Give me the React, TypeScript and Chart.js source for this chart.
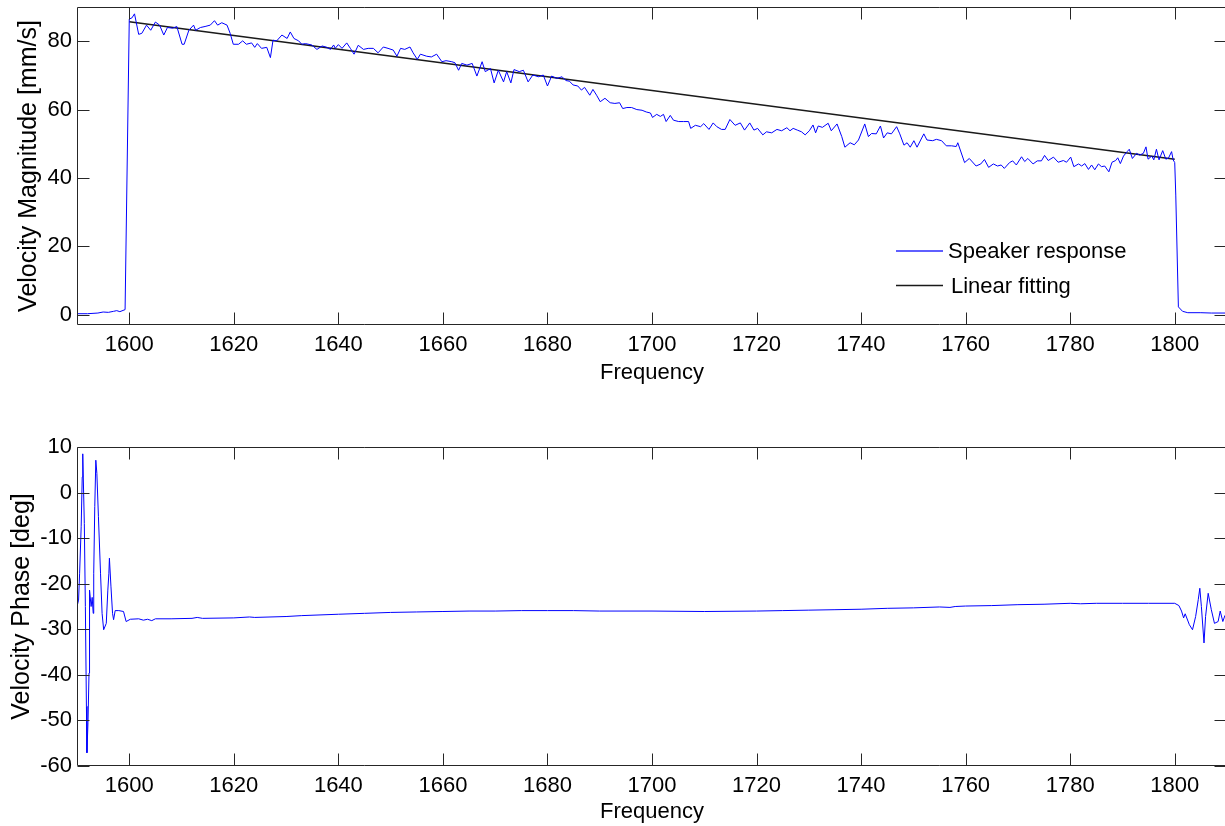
import React, { useEffect, useRef } from 'react';
import { Chart, registerables } from 'chart.js';

Chart.register(...registerables);

const FONT = "'Liberation Sans', Arial, Helvetica, sans-serif";

const xTicks = [1600, 1620, 1640, 1660, 1680, 1700, 1720, 1740, 1760, 1780, 1800];
const magYTicks = [0, 20, 40, 60, 80];
const phaseYTicks = [-60, -50, -40, -30, -20, -10, 0, 10];

const magFreq = [
  1590, 1592, 1594, 1595, 1596, 1597, 1597.6, 1598.2, 1599.2,
  1600, 1600.5, 1601, 1601.8, 1602.4, 1603.3, 1604.1, 1605, 1605.8, 1606.6, 1607.3, 1608.3, 1609.1,
  1610.1, 1610.5, 1611.4, 1612.3, 1612.7, 1613.6, 1614.5, 1615.5, 1616.3, 1616.9, 1617.7, 1618.7, 1619.3, 1619.9,
  1620.9, 1621.7, 1622.4, 1623.4, 1624.0, 1624.5, 1625.3, 1626.3, 1627.0, 1627.5, 1628.2, 1629.2,
  1630.2, 1630.8, 1631.5, 1632.4, 1633.0, 1633.7, 1634.9, 1635.9, 1636.9, 1637.8, 1638.5, 1639.1, 1639.4,
  1640.0, 1640.7, 1641.6, 1642.3, 1643.0, 1643.8, 1644.8, 1645.7, 1646.7, 1647.6, 1648.6, 1649.5,
  1650.5, 1651.2, 1651.9, 1652.7, 1653.7, 1654.3, 1655.1, 1655.7, 1656.9, 1657.8, 1658.8, 1659.8,
  1660.6, 1661.7, 1662.3, 1663.0, 1663.6, 1664.6, 1665.6, 1666.5, 1667.5, 1668.1, 1669.1, 1669.8,
  1670.6, 1671.6, 1672.2, 1673.0, 1673.6, 1674.6, 1675.4, 1676.3, 1677.2, 1678.3, 1679.2,
  1680.0, 1680.8, 1681.8, 1682.8, 1683.5, 1684.2, 1684.9, 1685.8, 1686.5, 1687.1, 1688.1, 1688.7, 1689.4,
  1690.1, 1691.0, 1692.0, 1692.9, 1693.8, 1694.4, 1695.2, 1696.1, 1697.1, 1698.1, 1698.9, 1699.7,
  1700.1, 1700.9, 1701.6, 1702.2, 1702.7, 1703.5, 1704.1, 1705.1, 1706.0, 1707.0, 1707.4, 1708.3, 1709.3, 1709.9,
  1710.9, 1711.7, 1712.4, 1713.3, 1714.0, 1714.9, 1715.9, 1716.9, 1717.7, 1718.7, 1719.5,
  1720.2, 1721.2, 1721.9, 1722.9, 1723.9, 1724.8, 1725.8, 1726.4, 1727.0, 1727.8, 1728.6, 1729.3,
  1730.1, 1730.8, 1731.3, 1731.8, 1732.6, 1733.7, 1734.3, 1735.4, 1736.3, 1736.9, 1737.9, 1738.7, 1739.5,
  1740.7, 1741.4, 1742.0, 1742.9, 1743.7, 1744.3, 1745.0, 1745.8, 1746.8, 1747.4, 1748.2, 1748.8, 1749.4,
  1750.1, 1750.7, 1752.0, 1752.6, 1753.7, 1754.4, 1755.4, 1756.3, 1757.3, 1758.2, 1758.5, 1759.8,
  1760.7, 1762.0, 1762.9, 1763.6, 1764.4, 1765.3, 1766.1, 1766.8, 1767.4, 1768.4, 1769.0, 1769.7,
  1770.7, 1771.3, 1771.9, 1772.9, 1773.7, 1774.5, 1775.1, 1775.8, 1776.8, 1777.7, 1778.7, 1779.3,
  1780.1, 1780.7, 1781.6, 1782.2, 1782.8, 1783.5, 1784.1, 1784.7, 1785.4, 1786.0, 1786.6, 1787.4, 1788.0, 1788.7, 1789.1, 1789.6,
  1790.2, 1790.9, 1791.3, 1791.9, 1792.7, 1793.3, 1794.0, 1794.5, 1794.9, 1795.6, 1796.0, 1796.5, 1797.0, 1797.7, 1798.3, 1798.8, 1799.4, 1799.7,
  1800.0, 1800.2, 1800.7, 1801.5, 1802.5, 1805, 1807, 1810,
];
const magValue = [
  0.3, 0.3, 0.5, 0.8, 0.7, 1.0, 1.2, 0.9, 1.5,
  86.5, 86.8, 88.0, 82.0, 82.3, 84.7, 83.2, 85.6, 84.7, 81.8, 84.0, 83.8, 84.3,
  79.1, 79.1, 83.2, 84.7, 83.2, 84.0, 84.3, 84.7, 86.0, 84.7, 85.4, 84.7, 82.3, 79.1,
  79.1, 80.1, 79.1, 79.5, 78.2, 79.3, 77.9, 78.2, 75.2, 80.3, 80.1, 81.8,
  80.8, 82.7, 80.8, 80.1, 79.1, 79.3, 78.9, 77.6, 78.6, 78.2, 77.6, 78.9, 77.9,
  79.0, 77.9, 79.5, 77.9, 76.2, 78.8, 77.6, 77.9, 77.9, 76.6, 78.3, 77.9,
  77.4, 75.6, 77.9, 77.6, 78.3, 76.6, 74.7, 76.2, 75.6, 75.4, 76.2, 74.0,
  74.3, 74.0, 73.7, 71.5, 73.5, 73.0, 73.5, 69.8, 74.0, 71.1, 72.0, 67.8,
  71.5, 68.1, 71.1, 67.8, 71.7, 71.1, 71.5, 68.1, 70.1, 69.6, 70.1,
  66.9, 69.8, 69.1, 69.6, 68.5, 68.3, 67.2, 66.9, 65.7, 66.5, 64.2, 65.9, 64.2,
  62.3, 63.3, 62.0, 61.8, 62.0, 60.3, 60.6, 60.6, 60.0, 59.8, 59.3, 59.0,
  57.7, 58.6, 58.0, 58.6, 56.5, 58.3, 56.9, 56.5, 56.5, 56.5, 54.5, 55.4, 55.0, 55.9,
  54.2, 56.1, 55.0, 54.2, 54.2, 57.1, 55.4, 56.1, 54.0, 56.1, 54.0,
  54.5, 52.6, 53.5, 53.2, 54.2, 53.8, 54.7, 53.8, 54.5, 54.0, 53.5, 52.6,
  53.8, 55.5, 53.2, 55.2, 54.8, 56.0, 53.8, 55.8, 52.1, 49.0, 50.3, 49.7, 51.1,
  55.8, 52.1, 53.0, 52.9, 55.2, 51.7, 53.2, 52.9, 55.0, 52.9, 49.6, 50.3, 49.0,
  50.9, 49.0, 52.9, 51.1, 50.9, 51.3, 50.9, 49.4, 49.4, 49.2, 50.3, 44.5,
  45.7, 43.5, 44.1, 45.4, 43.1, 44.1, 43.5, 43.8, 42.8, 44.5, 45.0, 43.8,
  46.2, 44.8, 45.7, 44.1, 45.0, 45.0, 46.6, 45.1, 46.1, 44.6, 45.1, 44.6,
  46.1, 43.3, 44.1, 43.5, 44.2, 42.5, 43.8, 42.4, 44.1, 43.3, 43.5, 41.8, 44.6, 45.1, 45.9, 44.2,
  46.4, 47.7, 48.4, 45.7, 47.2, 46.7, 47.2, 49.1, 45.5, 46.4, 45.3, 48.4, 45.3, 48.0, 45.5, 45.8, 47.7, 45.3,
  44.5, 35.0, 2.3, 1.0, 0.6, 0.6, 0.5, 0.5,
];

const fitFreq = [1600, 1800];
const fitValue = [85.7, 45.5];

const phaseFreq = [
  1590.0, 1590.3, 1590.5, 1590.8, 1591.0, 1591.1, 1591.4, 1591.6, 1591.8, 1591.9,
  1592.1, 1592.3, 1592.4, 1592.7, 1592.9, 1593.1, 1593.2, 1593.4, 1593.6, 1593.8,
  1594.1, 1594.5, 1594.8, 1595.1, 1595.6, 1595.9, 1596.1, 1596.2, 1596.5, 1596.8,
  1597.0, 1597.3, 1598.0, 1598.9, 1599.4, 1600.2, 1601.8, 1602.7, 1603.5, 1604.3, 1605.0,
  1608, 1612, 1613, 1614, 1620, 1623, 1624, 1630, 1633, 1640, 1645, 1650, 1655, 1660, 1665, 1670,
  1675, 1680, 1685, 1690, 1700, 1710, 1720, 1725, 1730, 1735, 1740, 1745, 1750, 1755, 1757, 1758,
  1760, 1765, 1770, 1775, 1780, 1782, 1785, 1790, 1795, 1800,
  1800.8, 1801.3, 1801.7, 1802.0, 1802.8, 1803.4, 1804.0, 1804.5, 1804.8, 1805.1, 1805.6, 1805.9,
  1806.4, 1807.0, 1807.6, 1808.3, 1808.7, 1809.2, 1809.6, 1810,
];
const phaseValue = [
  -25.0, -23.6, -17.7, -7.5, 3.4, 8.5, -6.8, -25.0, -46.9, -57.1,
  -50.5, -39.6, -21.4, -25.0, -23.0, -26.5, -17.7, -3.1, 7.1, 4.2,
  -5.3, -17.7, -26.5, -30.1, -28.7, -21.4, -17.7, -14.4, -20.7, -26.5,
  -27.9, -25.9, -25.9, -26.1, -28.3, -27.8, -27.7, -28.0, -27.8, -28.1, -27.7,
  -27.7, -27.6, -27.4, -27.6, -27.5, -27.3, -27.4, -27.2, -27.0, -26.7, -26.5, -26.3, -26.2, -26.1, -26.0, -26.0,
  -25.9, -25.9, -25.9, -26.0, -26.0, -26.1, -26.0, -25.9, -25.8, -25.7, -25.6, -25.4, -25.3, -25.1, -25.2, -25.0,
  -24.9, -24.8, -24.6, -24.5, -24.3, -24.4, -24.3, -24.3, -24.3, -24.3,
  -24.8, -26.0, -27.5, -26.6, -29.0, -30.1, -27.2, -23.5, -21.0, -25.0, -33.0, -27.2,
  -22.1, -25.7, -28.7, -28.3, -26.0, -28.3, -27.0, -28.5,
];

const toPoints = (xs: number[], ys: number[]) => xs.map((x, i) => ({ x, y: ys[i] }));

const AXIS_COLOR = '#262626';
const TICK_LEN = 12;
const BLUE = '#0000ff';
const FIT_COLOR = '#1a1a1a';

// legend layout (pixel positions in the top canvas)
const LEGEND_X0 = 896;
const LEGEND_X1 = 943;
const LEGEND_ROWS = [
  { y: 251, tx: 948, color: '#2a2aff', width: 1.4 },
  { y: 285.5, tx: 951, color: FIT_COLOR, width: 1.5 },
];

function drawBox(chart: any) {
  const { ctx, chartArea, scales } = chart;
  const { left, right, top, bottom } = chartArea;
  ctx.save();
  ctx.strokeStyle = AXIS_COLOR;
  ctx.lineWidth = 1;
  const L = Math.round(left) + 0.5;
  const R = Math.round(right) - 0.5;
  const T = Math.round(top) + 0.5;
  const B = Math.round(bottom) - 0.5;
  ctx.beginPath();
  ctx.rect(L, T, R - L, B - T);
  ctx.stroke();
  ctx.beginPath();
  for (const t of scales.x.ticks) {
    const px = Math.round(scales.x.getPixelForValue(t.value)) + 0.5;
    ctx.moveTo(px, B);
    ctx.lineTo(px, B - TICK_LEN);
    ctx.moveTo(px, T);
    ctx.lineTo(px, T + TICK_LEN);
  }
  for (const t of scales.y.ticks) {
    const py = Math.round(scales.y.getPixelForValue(t.value)) + 0.5;
    ctx.moveTo(L, py);
    ctx.lineTo(L + TICK_LEN, py);
    ctx.moveTo(R, py);
    ctx.lineTo(R - TICK_LEN, py);
  }
  ctx.stroke();
  ctx.restore();
}

const boxPlugin = {
  id: 'matlabBox',
  afterDraw(chart: any) {
    drawBox(chart);
  },
};

const legendPlugin = {
  id: 'matlabLegend',
  afterDraw(chart: any) {
    const { ctx } = chart;
    ctx.save();
    ctx.font = `22px ${FONT}`;
    ctx.textBaseline = 'middle';
    ctx.textAlign = 'left';
    LEGEND_ROWS.forEach((row, i) => {
      const ds = chart.data.datasets[i];
      ctx.strokeStyle = row.color;
      ctx.lineWidth = row.width;
      ctx.beginPath();
      ctx.moveTo(LEGEND_X0, row.y);
      ctx.lineTo(LEGEND_X1, row.y);
      ctx.stroke();
      ctx.fillStyle = '#000';
      ctx.fillText(ds.label, row.tx, Math.round(row.y) + 1);
    });
    ctx.restore();
  },
};

const tickFont = { family: FONT, size: 22 };

function makeXScale(height: number, titlePadBottom: number) {
  return {
    type: 'linear',
    min: 1590,
    max: 1810,
    afterBuildTicks: (s: any) => {
      s.ticks = xTicks.map((v) => ({ value: v }));
    },
    afterFit: (s: any) => {
      s.height = height;
      s.paddingLeft = 0;
      s.paddingRight = 0;
    },
    grid: { display: false, drawTicks: false },
    border: { display: false },
    ticks: {
      padding: 7,
      font: tickFont,
      color: '#000',
      maxRotation: 0,
      autoSkip: false,
      callback: (v: any) => String(v),
    },
    title: {
      display: true,
      text: 'Frequency',
      font: { family: FONT, size: 22 },
      color: '#000',
      padding: { top: 0, bottom: titlePadBottom },
    },
  };
}

function makeYScale(min: number, max: number, ticks: number[], title: string, titlePad: number) {
  return {
    type: 'linear',
    min,
    max,
    afterBuildTicks: (s: any) => {
      s.ticks = ticks.map((v) => ({ value: v }));
    },
    afterFit: (s: any) => {
      s.width = 77;
      s.paddingTop = 0;
      s.paddingBottom = 0;
    },
    grid: { display: false, drawTicks: false },
    border: { display: false },
    ticks: {
      padding: 5,
      font: tickFont,
      color: '#000',
      autoSkip: false,
      callback: (v: any) => String(v),
    },
    title: {
      display: true,
      text: title,
      font: { family: FONT, size: 25 },
      color: '#000',
      padding: { top: titlePad, bottom: 0 },
    },
  };
}

export default function App() {
  const topRef = useRef<HTMLCanvasElement | null>(null);
  const botRef = useRef<HTMLCanvasElement | null>(null);

  useEffect(() => {
    const top = new Chart(topRef.current as HTMLCanvasElement, {
      type: 'line',
      data: {
        datasets: [
          {
            label: 'Speaker response',
            data: toPoints(magFreq, magValue),
            borderColor: BLUE,
            borderWidth: 1,
            pointRadius: 0,
            tension: 0,
          },
          {
            label: 'Linear fitting',
            data: toPoints(fitFreq, fitValue),
            borderColor: FIT_COLOR,
            borderWidth: 1.5,
            pointRadius: 0,
            tension: 0,
          },
        ],
      },
      options: {
        responsive: false,
        animation: false,
        events: [],
        layout: { padding: { top: 7, right: 3, left: 0, bottom: 0 } },
        plugins: {
          legend: { display: false },
          tooltip: { enabled: false },
        },
        scales: {
          x: makeXScale(65, 4),
          y: makeYScale(-3, 90, magYTicks, 'Velocity Magnitude [mm/s]', 14),
        } as any,
      },
      plugins: [boxPlugin, legendPlugin],
    } as any);

    const bot = new Chart(botRef.current as HTMLCanvasElement, {
      type: 'line',
      data: {
        datasets: [
          {
            label: 'Velocity phase',
            data: toPoints(phaseFreq, phaseValue),
            borderColor: BLUE,
            borderWidth: 1,
            pointRadius: 0,
            tension: 0,
          },
        ],
      },
      options: {
        responsive: false,
        animation: false,
        events: [],
        layout: { padding: { top: 57, right: 3, left: 0, bottom: 0 } },
        plugins: {
          legend: { display: false },
          tooltip: { enabled: false },
        },
        scales: {
          x: makeXScale(60, 1),
          y: makeYScale(-60, 10, phaseYTicks, 'Velocity Phase [deg]', 7),
        } as any,
      },
      plugins: [boxPlugin],
    } as any);

    return () => {
      top.destroy();
      bot.destroy();
    };
  }, []);

  return (
    <div
      style={{
        position: 'fixed',
        left: 0,
        top: 0,
        width: 1225,
        height: 826,
        overflow: 'hidden',
        background: '#fff',
      }}
    >
      <canvas
        ref={topRef}
        width={1230}
        height={390}
        style={{ position: 'absolute', left: 0, top: 0, width: 1230, height: 390 }}
      />
      <canvas
        ref={botRef}
        width={1230}
        height={436}
        style={{ position: 'absolute', left: 0, top: 390, width: 1230, height: 436 }}
      />
    </div>
  );
}
